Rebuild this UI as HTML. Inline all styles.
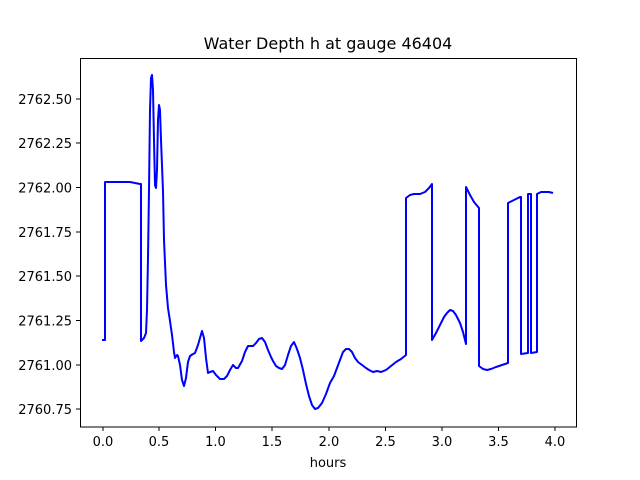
<!DOCTYPE html>
<html><head><meta charset="utf-8"><style>
html,body{margin:0;padding:0;background:#fff;}
svg{display:block;font-family:"DejaVu Sans","Liberation Sans",sans-serif;}
</style></head><body>
<svg width="640" height="480" viewBox="0 0 640 480" xmlns="http://www.w3.org/2000/svg">
<rect width="640" height="480" fill="#fff"/>
<text x="328" y="49" font-size="16" text-anchor="middle" fill="#000">Water Depth h at gauge 46404</text>
<polyline fill="none" stroke="#0000ff" stroke-width="2" stroke-linejoin="round" points="
102,340 105,340 105,182 130,182 135,183 140,184 141,184 141,341 144,338 146,333 147,310 148,258 149,190 150,110 151,78 152,75 153,90 154,140 155,185 156,188 157,170 158,120 159,105 160,110 161,140 163,191 164,240 166,285 168,308 170,321 172,335 174,352 175,358 177,355 178,356 180,365 182,380 184,386 186,378 188,362 190,356 193,354 195,353 198,345 202,331 204,338 206,358 208,373 210,372 213,371 216,375 220,379 224,379 227,376 230,370 233,365 236,368 238,368 242,361 245,352 248,346 253,346 256,343 259,339 262,338 265,342 268,350 271,357 273,361 276,366 279,368 282,369 285,365 288,355 291,346 294,342 297,349 300,358 303,370 306,384 309,396 312,405 315,409 318,408 322,403 326,394 330,383 334,376 337,368 340,360 343,352 346,349 349,349 352,352 355,358 358,362 362,365 366,368 369,370 373,372 377,371 381,372 386,370 391,366 396,362 401,359 406,355 406,198 410,195 414,194 420,194 425,192 429,188 432,184 432,340 436,333 440,325 444,317 447,313 450,310 453,311 456,315 460,323 463,332 466,344 466,187 470,195 474,202 479,208 479,366 483,369 487,370 491,369 496,367 502,365 508,363 508,203 514,200 520,197 521,197 521,354 528,353 528,194 531,194 531,353 537,352 537,194 541,192 545,192 549,192 553,193" />
<rect x="80.5" y="58.5" width="496" height="368.5" fill="none" stroke="#000" stroke-width="1"/>
<g stroke="#000" stroke-width="1">
<line x1="103" y1="427" x2="103" y2="431"/><line x1="159" y1="427" x2="159" y2="431"/><line x1="215.5" y1="427" x2="215.5" y2="431"/><line x1="272" y1="427" x2="272" y2="431"/><line x1="329" y1="427" x2="329" y2="431"/><line x1="385.5" y1="427" x2="385.5" y2="431"/><line x1="442" y1="427" x2="442" y2="431"/><line x1="498.5" y1="427" x2="498.5" y2="431"/><line x1="555" y1="427" x2="555" y2="431"/>
<line x1="76" y1="99" x2="80" y2="99"/><line x1="76" y1="143" x2="80" y2="143"/><line x1="76" y1="187.5" x2="80" y2="187.5"/><line x1="76" y1="232" x2="80" y2="232"/><line x1="76" y1="276" x2="80" y2="276"/><line x1="76" y1="320.5" x2="80" y2="320.5"/><line x1="76" y1="365" x2="80" y2="365"/><line x1="76" y1="409" x2="80" y2="409"/>
</g>
<g font-size="13" fill="#000" text-anchor="middle">
<text x="103" y="446">0.0</text><text x="159" y="446">0.5</text><text x="215.5" y="446">1.0</text><text x="272" y="446">1.5</text><text x="329" y="446">2.0</text><text x="385.5" y="446">2.5</text><text x="442" y="446">3.0</text><text x="498.5" y="446">3.5</text><text x="555" y="446">4.0</text>
<text x="328" y="467">hours</text>
</g>
<g font-size="13" fill="#000" text-anchor="end">
<text x="72" y="104">2762.50</text><text x="72" y="148">2762.25</text><text x="72" y="192.5">2762.00</text><text x="72" y="237">2761.75</text><text x="72" y="281">2761.50</text><text x="72" y="325.5">2761.25</text><text x="72" y="370">2761.00</text><text x="72" y="414">2760.75</text>
</g>
</svg>
</body></html>
